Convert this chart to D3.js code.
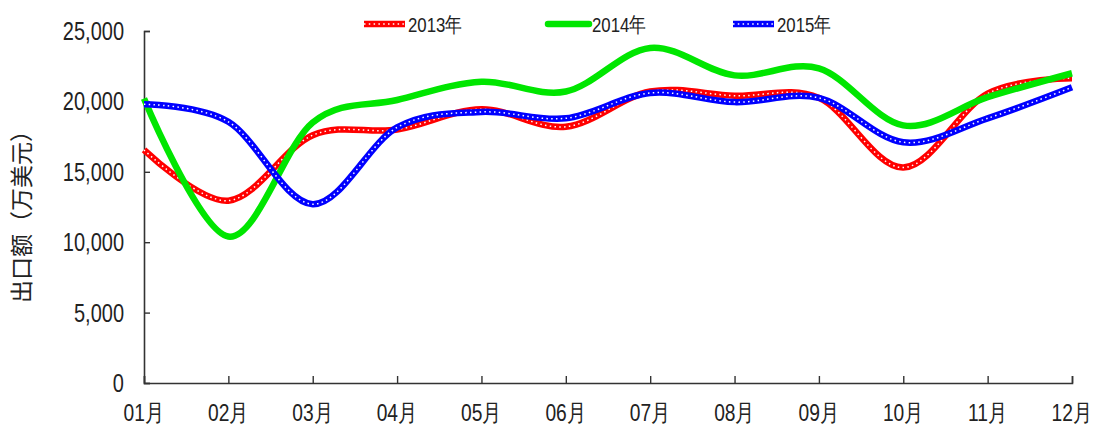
<!DOCTYPE html>
<html>
<head>
<meta charset="utf-8">
<script src="https://cdn.jsdelivr.net/npm/d3@7"></script>
<style>
  body { margin: 0; background: #fff; }
  svg text { font-family: "Liberation Sans", Arial, sans-serif; fill: #222; }
</style>
</head>
<body>
<div id="chart"></div>
<script>
// data (万美元)
var months = ["01月", "02月", "03月", "04月", "05月", "06月", "07月", "08月", "09月", "10月", "11月", "12月"];
var s2013 = [16550, 12950, 17600, 18000, 19450, 18200, 20700, 20400, 20250, 15300, 20550, 21650];
var s2014 = [20200, 10400, 18500, 20100, 21400, 20700, 23800, 21850, 22350, 18300, 20300, 22000];
var s2015 = [19800, 18550, 12700, 18150, 19250, 18800, 20600, 19950, 20250, 17100, 18800, 21000];
var yTicks = [0, 5000, 10000, 15000, 20000, 25000];
var seriesNames = ["2013年", "2014年", "2015年"];

var width = 1094, height = 425;
var mLeft = 144, mRight = 1072, mTop = 31, mBottom = 383;
var squeeze = 0.8; // narrow look of the original font

var svg = d3.select("#chart")
  .append("svg")
  .attr("width", width)
  .attr("height", height)

var x = d3.scalePoint()
  .domain(months)
  .range([mLeft, mRight])

var y = d3.scaleLinear()
  .domain([0, 25000])
  .range([mBottom, mTop])

// narrow text: translate to the anchor point, then squeeze horizontally
function narrowText(parent, px, py, txt, size, anchor){
  return parent.append("g")
    .attr("transform", "translate(" + px + "," + py + ") scale(" + squeeze + ",1)")
    .append("text")
      .attr("text-anchor", anchor)
      .attr("dy", "0.36em")
      .style("font-size", size + "px")
      .text(txt)
}

// y axis
var yAxis = svg.append("g")
  .attr("transform", "translate(" + mLeft + ",0)")
  .call(d3.axisRight(y).tickValues(yTicks).tickSize(6).tickFormat(""))
yAxis.select(".domain").attr("stroke", "#333").attr("stroke-width", 1.6)
yAxis.selectAll(".tick line").attr("stroke", "#333").attr("stroke-width", 1.4)

yTicks.forEach(function(d){
  narrowText(svg, 124, y(d), d3.format(",")(d), 25, "end")
})

// x axis
var xAxis = svg.append("g")
  .attr("transform", "translate(0," + mBottom + ")")
  .call(d3.axisTop(x).tickSize(7).tickFormat(""))
xAxis.select(".domain").attr("stroke", "#333").attr("stroke-width", 1.6)
xAxis.selectAll(".tick line").attr("stroke", "#333").attr("stroke-width", 1.4)

months.forEach(function(d){
  narrowText(svg, x(d), 412, d, 24, "middle")
})

// y title
svg.append("text")
  .attr("transform", "translate(30,211) rotate(-90)")
  .attr("text-anchor", "middle")
  .style("font-family", "'Noto Sans CJK SC', sans-serif")
  .style("font-size", "23px")
  .text("出口额（万美元）")

var line = d3.line()
  .x(function(d, i){ return x(months[i]) })
  .y(function(d){ return y(d) })
  .curve(d3.curveCardinal.tension(0))

function dotted(g, path, color){
  g.append("path").attr("d", path)
    .attr("fill", "none").attr("stroke", color).attr("stroke-width", 6.5)
  g.append("path").attr("d", path)
    .attr("fill", "none").attr("stroke", "#fff").attr("stroke-width", 1.5)
    .attr("stroke-dasharray", "1.5,3.3")
}

var g = svg.append("g")
dotted(g, line(s2013), "#ff0000")
g.append("path").attr("d", line(s2014))
  .attr("fill", "none").attr("stroke", "#00e600").attr("stroke-width", 6.5)
dotted(g, line(s2015), "#0000ff")

// legend
var legend = [
  { name: seriesNames[0], color: "#ff0000", dots: true, x: 364 },
  { name: seriesNames[1], color: "#00e600", dots: false, x: 548 },
  { name: seriesNames[2], color: "#0000ff", dots: true, x: 733 }
]
legend.forEach(function(l){
  var p = "M" + l.x + ",24L" + (l.x + 41) + ",24"
  if (l.dots) dotted(svg, p, l.color)
  else svg.append("path").attr("d", p).attr("stroke", l.color).attr("stroke-width", 6.5).attr("stroke-linecap", "round")
  narrowText(svg, l.x + 44, 24, l.name, 21, "start")
})
</script>
</body>
</html>
